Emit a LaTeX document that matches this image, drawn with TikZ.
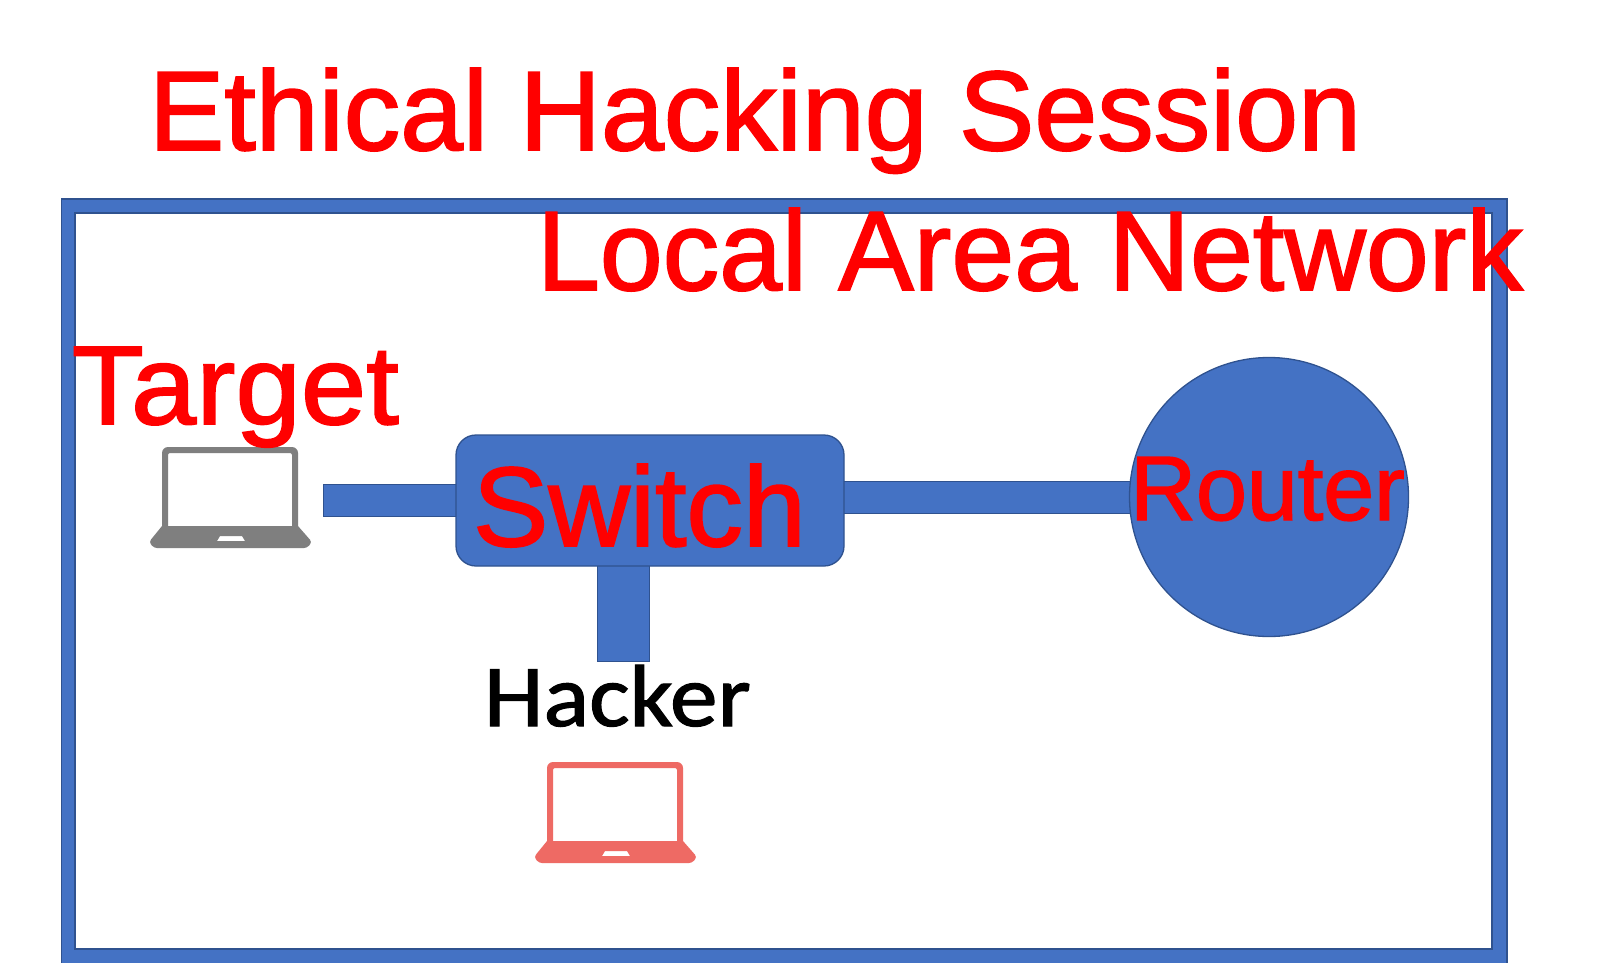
\documentclass[tikz,border=0pt]{standalone}
\usepackage{fontspec}
\usetikzlibrary{backgrounds}
\setmainfont{Liberation Sans}
\newfontfamily\heavyfont[FakeBold=1.6]{Liberation Sans}
\newfontfamily\heavywidefont[FakeBold=1.6,FakeStretch=1.05]{Liberation Sans}
\newfontfamily\carlitofont[FakeBold=1.4,FakeStretch=1.085]{Carlito}
\definecolor{fillblue}{HTML}{4472C4}
\definecolor{edgeblue}{HTML}{2F528F}
\definecolor{hackred}{HTML}{EE6A64}
\definecolor{lapgray}{HTML}{7F7F7F}
\definecolor{labelred}{HTML}{FF0000}
\tikzset{
  shape part/.style={fill=fillblue,draw=edgeblue,line width=1.3pt},
  link edge/.style={draw=edgeblue},
  link fill/.style={draw=fillblue},
  label text/.style={anchor=base west,inner sep=0pt,outer sep=0pt,text=labelred},
  laptop/.pic={
    \fill[pic actions,even odd rule]
      (13,80) [rounded corners=6pt] -- (13,0) -- (149,0) [sharp corners] -- (149,80) -- cycle
      (19,79) [rounded corners=2pt] -- (19,6) -- (143,6) [sharp corners] -- (143,79) -- cycle;
    \fill[pic actions,even odd rule]
      (13,79) -- (149,79) [rounded corners=3pt] -- (163,95) -- (158,101) -- (5,101) -- (0,95) [sharp corners] -- cycle
      (68,94) -- (71,89) -- (93,89) -- (96,94) -- cycle;
  }
}
\begin{document}
\begin{tikzpicture}[x=1pt,y=-1pt]
\useasboundingbox (0,0) rectangle (1600,963);
% laptops
\pic[color=lapgray,fill=lapgray] (targetpc) at (149,447) {laptop};
\pic[color=hackred,fill=hackred] (hackerpc) at (534,762) {laptop};
% shapes
\node[shape part,rounded corners=20pt,minimum width=388pt,minimum height=131pt,inner sep=0pt] (switch) at (650,500.5) {};
\node[shape part,circle,minimum size=279pt,inner sep=0pt] (router) at (1269,497) {};
\coordinate (targetend) at (323,500.5);
\coordinate (hackerend) at (623.5,662);
% frame and connectors, behind the shapes
\begin{scope}[on background layer]
\fill[white] (0,0) rectangle (1600,963);
\begin{scope}
\clip (0,0) rectangle (1600,963);
\fill[fillblue,even odd rule] (61.5,199) rectangle (1507,970) (75,213) rectangle (1492,949);
\draw[edgeblue,line width=1.2pt] (61.5,199) rectangle (1507,970) (75,213) rectangle (1492,949);
\end{scope}
\draw[link edge,line width=33pt] (targetend) -- (switch.center |- targetend);
\draw[link fill,line width=31pt,shorten <=1pt] (targetend) -- (switch.center |- targetend);
\draw[link edge,line width=33pt] (switch.center |- router.west) -- (router.center);
\draw[link fill,line width=31pt] (switch.center |- router.west) -- (router.center);
\draw[link edge,line width=53pt] (switch.center -| hackerend) -- (hackerend);
\draw[link fill,line width=51pt,shorten >=1pt] (switch.center -| hackerend) -- (hackerend);
\end{scope}
% texts
\node[label text,font=\heavyfont\fontsize{113}{120}\selectfont] (title) at (149,150) {Ethical Hacking Session};
\node[label text,font=\heavyfont\fontsize{113}{120}\selectfont] (lan) at (537,290) {Local Area Network};
\node[label text,font=\heavywidefont\fontsize{112}{120}\selectfont] (target) at (72,424) {Target};
\node[label text,font=\heavyfont\fontsize{113}{120}\selectfont] (switchlabel) at (473,546) {Switch};
\node[label text,font=\heavyfont\fontsize{91.5}{100}\selectfont] (routerlabel) at (1130,520) {Router};
\node[anchor=base west,inner sep=0pt,outer sep=0pt,font=\carlitofont\fontsize{88}{96}\selectfont] (hacker) at (484,726) {Hacker};
\end{tikzpicture}
\end{document}
